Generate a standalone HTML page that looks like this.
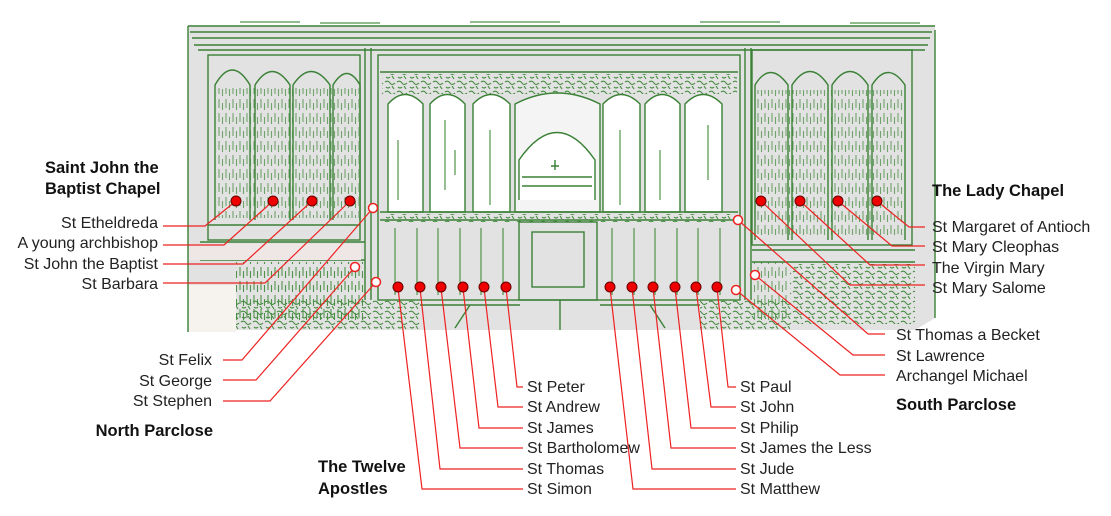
<!DOCTYPE html>
<html><head><meta charset="utf-8"><style>
html,body{margin:0;padding:0;background:#fff;width:1111px;height:516px;overflow:hidden}
svg{display:block}
text{font-family:"Liberation Sans",Arial,sans-serif;font-size:16px;fill:#222}
.b{font-weight:bold;fill:#111;font-size:16.5px}
.g{fill:none;stroke:#3a8035;stroke-width:1.4}
.gl{fill:none;stroke:#4f9548;stroke-width:1.2}
.r{fill:none;stroke:#ee2222;stroke-width:1.2}
.d{fill:#e00;stroke:#600;stroke-width:1}
.h{fill:#fff;stroke:#e22;stroke-width:1.5}
</style></head><body>
<svg width="1111" height="516" viewBox="0 0 1111 516" xmlns="http://www.w3.org/2000/svg">
<defs>
<pattern id="vs" width="7" height="14" patternUnits="userSpaceOnUse">
<path d="M2 1v9M5.5 5v7" stroke="#3f8a3a" stroke-width="1.1" fill="none"/>
</pattern>
<pattern id="sc" width="12" height="10" patternUnits="userSpaceOnUse">
<path d="M1 2q3-2 5 1t5 0M2 7q2 2 4 0M8 6l2 3" stroke="#3f8a3a" stroke-width="1.1" fill="none"/>
</pattern>
</defs>
<path d="M188 26H935V318L915 330H240L188 332Z" fill="#e2e2e2"/>
<rect x="188" y="285" width="48" height="47" fill="#f6f3ee"/>
<path class="g" d="M188 26H935M190 32H932M192 38H930M194 45H928M198 50H925"/>
<path class="gl" d="M240 22H300M320 23H380M470 22H560M700 22H780M850 23H920"/>
<path class="g" d="M365 48V300M371 48V300M745 48V300M751 48V300"/>
<rect x="208" y="55" width="152" height="185" class="g" fill="#e6e6e6"/>
<g class="g">
<path d="M215 220V85Q232 55 250 85V220"/>
<path d="M255 220V85Q272 58 290 85V220"/>
<path d="M293 220V85Q311 58 330 85V220"/>
<path d="M333 220V85Q347 62 360 85V220"/>
<path d="M208 225H360M200 242H365M200 260H365"/>
</g>
<rect x="216" y="88" width="143" height="130" fill="url(#vs)" opacity="0.7"/>
<rect x="236" y="262" width="128" height="60" fill="url(#vs)" opacity="0.9"/>
<rect x="189" y="244" width="172" height="16" fill="#efe6e6"/>
<rect x="378" y="55" width="362" height="245" class="g" fill="#e4e4e4"/>
<path class="g" d="M380 72H738"/>
<rect x="382" y="74" width="355" height="20" fill="url(#sc)"/>
<g class="g">
<path d="M388 212V104Q405 85 423 104V212Z" fill="#fff"/>
<path d="M430 212V104Q447 85 465 104V212Z" fill="#fff"/>
<path d="M473 212V104Q491 85 510 104V212Z" fill="#fff"/>
<path d="M515 212V104Q557 82 600 104V212Z" fill="#f4f4f4"/>
<path d="M603 212V104Q621 85 640 104V212Z" fill="#fff"/>
<path d="M645 212V104Q662 85 680 104V212Z" fill="#fff"/>
<path d="M685 212V104Q703 85 722 104V212Z" fill="#fff"/>
<path d="M519 200V160Q557 105 595 160V200" fill="#fff"/>
<path d="M522 177H592M522 186H592M555 160V170M551 166H559"/>
</g>
<path class="gl" d="M398 140V200M445 120V190M455 150V175M490 130V205M620 130V205M660 150V200M708 125V180"/>
<path class="g" d="M380 212H738M380 220H738"/>
<rect x="382" y="214" width="355" height="8" fill="url(#sc)"/>
<rect x="519" y="222" width="78" height="78" class="g" fill="#ececec"/>
<rect x="532" y="232" width="52" height="55" class="g" fill="#e0e0e0"/>
<g class="gl">
<path d="M395 228V295M417 228V295M438 228V295M460 228V295M481 228V295M503 228V295"/>
<path d="M612 228V295M634 228V295M655 228V295M677 228V295M698 228V295M720 228V295"/>
</g>
<path class="g" d="M420 305H520M600 305H700M560 300V330M470 305L455 328M650 305L665 328"/>
<rect x="752" y="50" width="160" height="195" class="g" fill="#e6e6e6"/>
<g class="g">
<path d="M755 240V85Q770 60 788 85V240"/>
<path d="M792 240V85Q810 58 828 85V240"/>
<path d="M832 240V85Q850 58 868 85V240"/>
<path d="M872 240V85Q888 60 905 85V240"/>
<path d="M752 250H915M752 262H915"/>
</g>
<rect x="756" y="90" width="150" height="145" fill="url(#vs)" opacity="0.7"/>
<rect x="790" y="264" width="125" height="60" fill="url(#sc)"/>
<rect x="753" y="262" width="35" height="60" fill="url(#vs)" opacity="0.7"/>
<rect x="236" y="300" width="184" height="30" fill="url(#sc)"/>
<rect x="700" y="300" width="90" height="30" fill="url(#sc)"/>
<path class="g" d="M188 26V332M935 30V318"/>

<g class="r">
<path d="M163 226H205L236 201"/>
<path d="M163 245H224L273 201"/>
<path d="M163 264H243L312 201"/>
<path d="M163 283H265L350 201"/>
<path d="M223 360H242L373 208"/>
<path d="M223 380H256L355 267"/>
<path d="M223 401H270L376 282"/>
<path d="M925 227H909L877 201"/>
<path d="M925 246H892L838 201"/>
<path d="M925 265H870L800 201"/>
<path d="M925 285H850L761 201"/>
<path d="M885 334H868L738 220"/>
<path d="M885 355H853L755 275"/>
<path d="M885 375H840L736 290"/>
<path d="M523 387H517L506 288"/>
<path d="M523 407H498L484 288"/>
<path d="M523 428H479L463 288"/>
<path d="M523 448H460L441 288"/>
<path d="M523 469H440L420 288"/>
<path d="M523 489H422L398 288"/>
<path d="M736 387H728L717 288"/>
<path d="M736 407H711L696 288"/>
<path d="M736 428H691L675 288"/>
<path d="M736 448H671L653 288"/>
<path d="M736 469H652L632 288"/>
<path d="M736 489H633L610 288"/>
</g>
<g class="d">
<circle cx="236" cy="201" r="5"/><circle cx="273" cy="201" r="5"/><circle cx="312" cy="201" r="5"/><circle cx="350" cy="201" r="5"/>
<circle cx="761" cy="201" r="5"/><circle cx="800" cy="201" r="5"/><circle cx="838" cy="201" r="5"/><circle cx="877" cy="201" r="5"/>
<circle cx="398" cy="287" r="5"/><circle cx="420" cy="287" r="5"/><circle cx="441" cy="287" r="5"/><circle cx="463" cy="287" r="5"/><circle cx="484" cy="287" r="5"/><circle cx="506" cy="287" r="5"/>
<circle cx="610" cy="287" r="5"/><circle cx="632" cy="287" r="5"/><circle cx="653" cy="287" r="5"/><circle cx="675" cy="287" r="5"/><circle cx="696" cy="287" r="5"/><circle cx="717" cy="287" r="5"/>
</g>
<g class="h">
<circle cx="373" cy="208" r="4.5"/><circle cx="355" cy="267" r="4.5"/><circle cx="376" cy="282" r="4.5"/>
<circle cx="738" cy="220" r="4.5"/><circle cx="755" cy="275" r="4.5"/><circle cx="736" cy="290" r="4.5"/>
</g>

<text class="b" x="45" y="173">Saint John the</text>
<text class="b" x="45" y="194">Baptist Chapel</text>
<g text-anchor="end">
<text x="158" y="228">St Etheldreda</text>
<text x="158" y="248">A young archbishop</text>
<text x="158" y="269">St John the Baptist</text>
<text x="158" y="289">St Barbara</text>
<text x="212" y="365">St Felix</text>
<text x="212" y="386">St George</text>
<text x="212" y="406">St Stephen</text>
<text class="b" x="213" y="436">North Parclose</text>
</g>
<text class="b" x="932" y="196">The Lady Chapel</text>
<text x="932" y="232">St Margaret of Antioch</text>
<text x="932" y="252">St Mary Cleophas</text>
<text x="932" y="273">The Virgin Mary</text>
<text x="932" y="293">St Mary Salome</text>
<text x="896" y="340">St Thomas a Becket</text>
<text x="896" y="361">St Lawrence</text>
<text x="896" y="381">Archangel Michael</text>
<text class="b" x="896" y="410">South Parclose</text>
<text x="527" y="392">St Peter</text>
<text x="527" y="412">St Andrew</text>
<text x="527" y="433">St James</text>
<text x="527" y="453">St Bartholomew</text>
<text x="527" y="474">St Thomas</text>
<text x="527" y="494">St Simon</text>
<text x="740" y="392">St Paul</text>
<text x="740" y="412">St John</text>
<text x="740" y="433">St Philip</text>
<text x="740" y="453">St James the Less</text>
<text x="740" y="474">St Jude</text>
<text x="740" y="494">St Matthew</text>
<text class="b" x="318" y="472">The Twelve</text>
<text class="b" x="318" y="494">Apostles</text>
</svg>
</body></html>
